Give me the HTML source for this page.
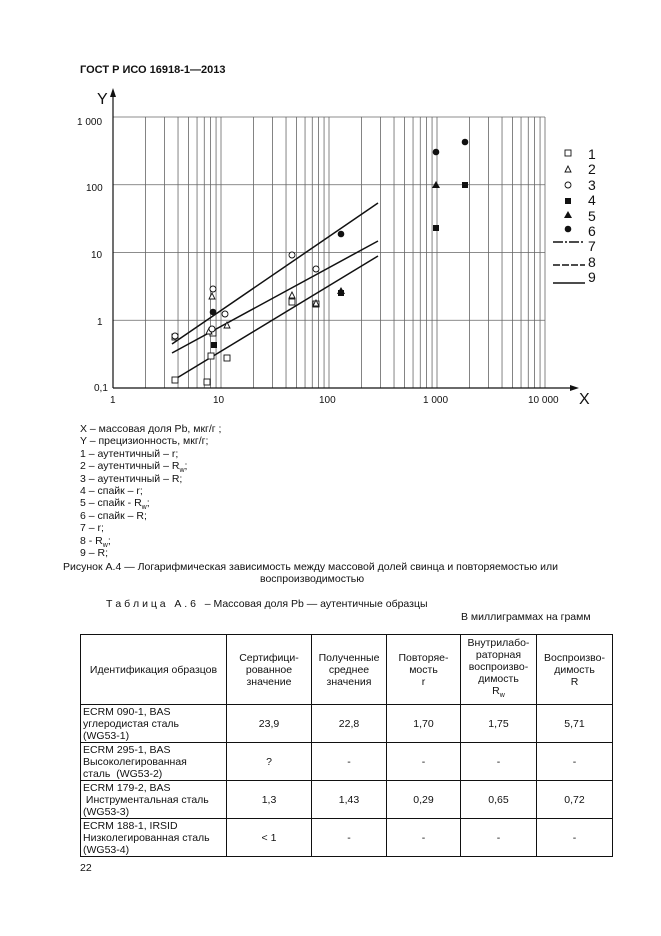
<!DOCTYPE html>
<html><head><meta charset="utf-8"><style>
body{margin:0;background:#fff;width:661px;height:936px;position:relative;font-family:"Liberation Sans",Arial,sans-serif;color:#111;overflow:hidden}
.t{position:absolute;font-size:10.5px;white-space:nowrap;line-height:12px}
table{position:absolute;left:80px;top:634px;border-collapse:collapse;font-size:10.5px}
td{border:1px solid #111;text-align:center;vertical-align:middle;padding:0 2px;line-height:12px}
td.l{text-align:left}
</style></head><body>
<div class="t" style="left:80px;top:64px;font-weight:bold;font-size:11px">ГОСТ Р ИСО 16918-1—2013</div>
<svg style="position:absolute;left:0;top:0" width="661" height="420">
<g stroke="#666" stroke-width="0.8" id="g"></g>
<g font-family="Liberation Sans" font-size="10" fill="#111">
<text x="77" y="125">1 000</text><text x="86" y="191">100</text><text x="91" y="258">10</text><text x="97" y="325">1</text><text x="94" y="391">0,1</text>
<text x="110" y="403">1</text><text x="213" y="403">10</text><text x="319" y="403">100</text><text x="423" y="403">1 000</text><text x="528" y="403">10 000</text>
<text x="97" y="104" font-size="16">Y</text><text x="579" y="404" font-size="16">X</text>
</g>
<line x1="113" y1="388" x2="575" y2="388" stroke="#111" stroke-width="1.2"/>
<line x1="113" y1="388" x2="113" y2="92" stroke="#111" stroke-width="1.2"/>
<polygon points="113,88 110,97 116,97" fill="#111"/><polygon points="579,388 570,385 570,391" fill="#111"/>
<g stroke="#111" stroke-width="1.5">
<line x1="172" y1="344" x2="378" y2="203"/><line x1="172" y1="353" x2="378" y2="241"/><line x1="172" y1="381" x2="378" y2="256"/>
<line x1="553" y1="242" x2="585" y2="242" stroke-dasharray="10,2,2,2"/><line x1="553" y1="265" x2="585" y2="265" stroke-dasharray="7,2"/><line x1="553" y1="283" x2="585" y2="283"/>
</g>
<g fill="#fff" stroke="#111" stroke-width="0.9">
<rect x="172" y="334" width="6" height="6"/><rect x="172" y="377" width="6" height="6"/><rect x="204" y="379" width="6" height="6"/><rect x="208" y="353" width="6" height="6"/><rect x="210" y="330" width="6" height="6"/><rect x="224" y="355" width="6" height="6"/><rect x="289" y="299" width="6" height="6"/><rect x="313" y="301" width="6" height="6"/>
<rect x="565" y="150" width="6" height="6"/>
<polygon points="209,328 206,334 212,334"/><polygon points="212,293 209,299 215,299"/><polygon points="227,322 224,328 230,328"/><polygon points="292,292 289,298 295,298"/><polygon points="316,300 313,306 319,306"/><polygon points="568,166 565,172 571,172"/>
<circle cx="175" cy="336" r="3"/><circle cx="213" cy="289" r="3"/><circle cx="212" cy="329" r="3"/><circle cx="225" cy="314" r="3"/><circle cx="292" cy="255" r="3"/><circle cx="316" cy="269" r="3"/><circle cx="568" cy="185" r="3"/>
</g>
<g fill="#111">
<rect x="211" y="342" width="6" height="6"/><rect x="338" y="290" width="6" height="6"/><rect x="433" y="225" width="6" height="6"/><rect x="462" y="182" width="6" height="6"/><rect x="565" y="198" width="6" height="6"/>
<polygon points="341,287 337,294 345,294"/><polygon points="436,181 432,188 440,188"/><polygon points="568,211 564,218 572,218"/>
<circle cx="213" cy="312" r="3.3"/><circle cx="341" cy="234" r="3.3"/><circle cx="436" cy="152" r="3.3"/><circle cx="465" cy="142" r="3.3"/><circle cx="568" cy="229" r="3.3"/>
</g>
<g font-family="Liberation Sans" font-size="14" fill="#111">
<text x="588" y="159">1</text><text x="588" y="174">2</text><text x="588" y="190">3</text><text x="588" y="205">4</text><text x="588" y="221">5</text><text x="588" y="236">6</text><text x="588" y="251">7</text><text x="588" y="267">8</text><text x="588" y="282">9</text>
</g>
</svg>
<script>
var g=document.getElementById('g'),s='';
for(var d=0;d<4;d++)for(var k=1;k<10;k++){var x=113+108*(d+Math.log10(k));s+='<line x1="'+x+'" y1="117" x2="'+x+'" y2="388"/>';}
s+='<line x1="545" y1="117" x2="545" y2="388"/>';
for(var j=0;j<4;j++){var y=117+67.75*j;s+='<line x1="113" y1="'+y+'" x2="545" y2="'+y+'"/>';}
g.innerHTML=s;
</script>
<div class="t" style="left:80px;top:423px">X – массовая доля Pb, мкг/г ;</div>
<div class="t" style="left:80px;top:435px">Y – прецизионность, мкг/г;</div>
<div class="t" style="left:80px;top:448px">1 – аутентичный – r;</div>
<div class="t" style="left:80px;top:460px">2 – аутентичный – R<sub style="font-size:7px">w</sub>;</div>
<div class="t" style="left:80px;top:473px">3 – аутентичный – R;</div>
<div class="t" style="left:80px;top:485px">4 – спайк – r;</div>
<div class="t" style="left:80px;top:497px">5 – спайк - R<sub style="font-size:7px">w</sub>;</div>
<div class="t" style="left:80px;top:510px">6 – спайк – R;</div>
<div class="t" style="left:80px;top:522px">7 – r;</div>
<div class="t" style="left:80px;top:535px">8 - R<sub style="font-size:7px">w</sub>;</div>
<div class="t" style="left:80px;top:547px">9 – R;</div>
<div class="t" style="left:63px;top:561px">Рисунок А.4 — Логарифмическая зависимость между массовой долей свинца и повторяемостью или</div>
<div class="t" style="left:260px;top:573px">воспроизводимостью</div>
<div class="t" style="left:106px;top:598px">Т а б л и ц а &nbsp; А . 6 &nbsp; – Массовая доля Pb — аутентичные образцы</div>
<div class="t" style="left:461px;top:611px">В миллиграммах на грамм</div>
<table>
<tr style="height:70px"><td style="width:141px">Идентификация образцов</td><td style="width:80px">Сертифици-<br>рованное<br>значение</td><td style="width:70px">Полученные<br>среднее<br>значения</td><td style="width:69px">Повторяе-<br>мость<br>r</td><td style="width:71px">Внутрилабо-<br>раторная<br>воспроизво-<br>димость<br>R<sub style="font-size:7px">w</sub></td><td style="width:71px">Воспроизво-<br>димость<br>R</td></tr>
<tr style="height:38px"><td class="l">ECRM 090-1, BAS<br>углеродистая сталь<br>(WG53-1)</td><td>23,9</td><td>22,8</td><td>1,70</td><td>1,75</td><td>5,71</td></tr>
<tr style="height:38px"><td class="l">ECRM 295-1, BAS<br>Высоколегированная<br>сталь &nbsp;(WG53-2)</td><td>?</td><td>-</td><td>-</td><td>-</td><td>-</td></tr>
<tr style="height:38px"><td class="l">ECRM 179-2, BAS<br>&nbsp;Инструментальная сталь<br>(WG53-3)</td><td>1,3</td><td>1,43</td><td>0,29</td><td>0,65</td><td>0,72</td></tr>
<tr style="height:38px"><td class="l">ECRM 188-1, IRSID<br>Низколегированная сталь<br>(WG53-4)</td><td>&lt; 1</td><td>-</td><td>-</td><td>-</td><td>-</td></tr>
</table>
<div class="t" style="left:80px;top:862px">22</div>
</body></html>
